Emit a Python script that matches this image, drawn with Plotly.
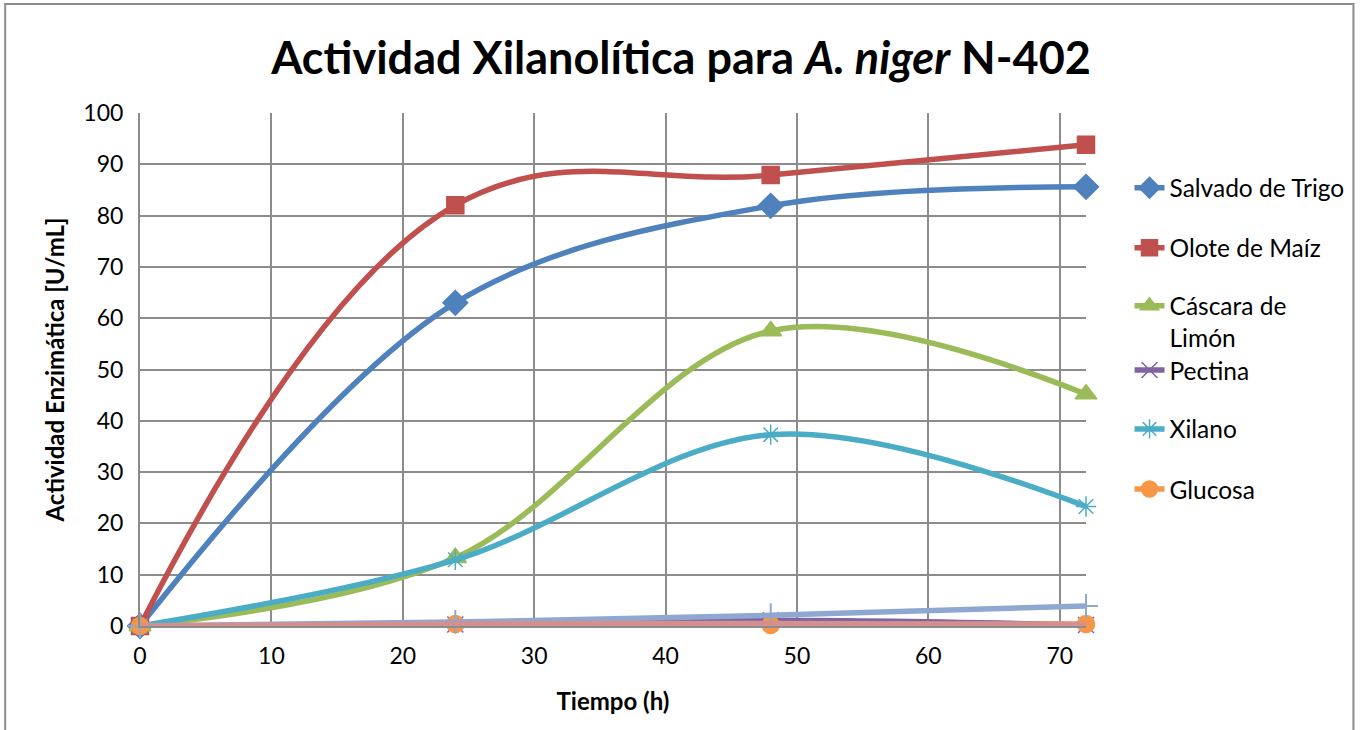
import plotly.graph_objects as go

# Sampling times (h)
tiempo = [0, 24, 48, 72]

# Xylanolytic activity (U/mL) per carbon source
salvado_trigo = [0, 63.0, 81.9, 85.6]
olote_maiz = [0, 82.0, 87.9, 93.8]
cascara_limon = [0, 13.3, 57.5, 45.2]
pectina = [0, 0.3, 1.1, 0.2]
xilano = [0, 12.9, 37.3, 23.3]
glucosa = [0, 0.4, 0.2, 0.4]
serie_7 = [0, 0.8, 2.1, 3.9]
serie_8 = [0, 0.4, 0.5, 0.3]

x_ticks = [0, 10, 20, 30, 40, 50, 60, 70]
y_ticks = [0, 10, 20, 30, 40, 50, 60, 70, 80, 90, 100]

FONT = "Lato"
GRID = "#8c8c8c"

series = [
    # name, values, color, marker symbol, marker size, smoothing, legend id, legend y, valign
    ("Salvado de Trigo", salvado_trigo, "#4F81BD", "diamond", 19, 1.0, "legend", 0.854, "middle"),
    ("Olote de Maíz", olote_maiz, "#C0504D", "square", 17, 1.15, "legend2", 0.737, "middle"),
    ("Cáscara de<br>Limón", cascara_limon, "#9BBB59", "triangle-up", 19, 1.0, "legend3", 0.668, "top"),
    ("Pectina", pectina, "#8064A2", "x-thin-open", 16, 1.0, "legend4", 0.499, "middle"),
    ("Xilano", xilano, "#4BACC6", "asterisk-open", 17, 1.0, "legend5", 0.384, "middle"),
    ("Glucosa", glucosa, "#F79646", "circle", 17, 1.0, "legend6", 0.267, "middle"),
]

fig = go.Figure()

layout_legends = {}
for name, vals, color, symbol, size, smooth, leg, ly, valign in series:
    fig.add_trace(go.Scatter(
        x=tiempo, y=vals, name=name, mode="lines+markers",
        line=dict(color=color, width=5.5, shape="spline", smoothing=smooth),
        marker=dict(symbol=symbol, size=size, color=color,
                    line=dict(color=color, width=1.5)),
        legend=leg, cliponaxis=False,
    ))
    layout_legends[leg] = dict(
        x=1.046, xanchor="left",
        y=ly, yanchor="top" if valign == "top" else "middle",
        valign=valign,
        bgcolor="rgba(0,0,0,0)",
        font=dict(family=FONT, size=24.5, color="#000000"),
        itemsizing="trace",
    )

# Two additional series without legend entries
fig.add_trace(go.Scatter(
    x=tiempo, y=serie_7, mode="lines+markers", showlegend=False,
    line=dict(color="#8EA8D2", width=5.5, shape="spline"),
    marker=dict(symbol="cross-thin-open", size=17, color="#8EA8D2",
                line=dict(color="#8EA8D2", width=2)),
    cliponaxis=False,
))
fig.add_trace(go.Scatter(
    x=tiempo, y=serie_8, mode="lines", showlegend=False,
    line=dict(color="#D4908F", width=5.5, shape="spline"),
    cliponaxis=False,
))

# Outer chart border
fig.add_shape(type="rect", xref="paper", yref="paper",
              x0=-0.1425, x1=1.2827, y0=-0.3, y1=1.2125,
              line=dict(color="#8c8c8c", width=2), fillcolor="rgba(0,0,0,0)")

fig.update_layout(
    width=1362, height=730,
    margin=dict(l=140, r=274, t=113, b=104),
    paper_bgcolor="white", plot_bgcolor="white",
    title=dict(
        text="Actividad Xilanolítica para <i>A. niger</i> N-402",
        x=0.5, xref="container", xanchor="center",
        y=0.92, yref="container", yanchor="middle",
        font=dict(family=FONT, size=45, color="#000000", weight="bold"),
    ),
    xaxis=dict(
        range=[0, 72], tickvals=x_ticks, ticktext=[str(v) for v in x_ticks],
        showgrid=True, gridcolor=GRID, gridwidth=2,
        showline=True, linecolor=GRID, linewidth=2,
        zeroline=False, ticks="", ticklabelstandoff=8,
        tickfont=dict(family=FONT, size=23, color="#000000"),
        title=dict(text="<b>Tiempo (h)</b>", standoff=26,
                   font=dict(family=FONT, size=24, color="#000000")),
    ),
    yaxis=dict(
        range=[0, 100], tickvals=y_ticks, ticktext=[str(v) for v in y_ticks],
        showgrid=True, gridcolor=GRID, gridwidth=2,
        showline=True, linecolor=GRID, linewidth=2,
        zeroline=False, ticks="", ticklabelstandoff=10,
        tickfont=dict(family=FONT, size=23, color="#000000"),
        title=dict(text="<b>Actividad Enzimática [U/mL]</b>", standoff=12,
                   font=dict(family=FONT, size=24, color="#000000")),
    ),
    **layout_legends,
)

fig.write_html("out.html")
